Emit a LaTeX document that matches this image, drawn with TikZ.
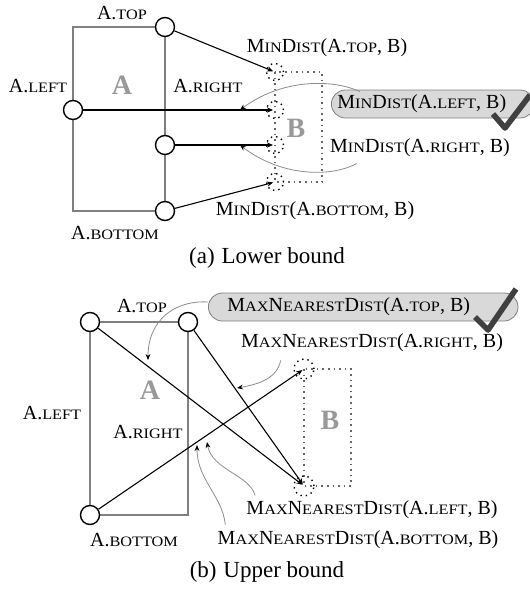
\documentclass[tikz,border=0pt]{standalone}
\usepackage{fontspec}
\setmainfont{Liberation Serif}
\newfontfamily\smfont[FakeStretch=1.13]{Liberation Serif}
\usetikzlibrary{arrows.meta}
\newcommand{\sm}[1]{{\smfont\fontsize{7.2}{8}\selectfont #1}}
\tikzset{corner/.style={circle, draw, fill=white, line width=0.7pt, inner sep=0pt, minimum size=9.5pt},
  probe/.style={circle, draw, dotted, line width=0.7pt, inner sep=0pt, minimum size=8.5pt},
  arect/.style={draw=black!50, line width=1pt},
  brect/.style={draw=black!60, dotted, line width=0.8pt},
  dist/.style={-{Stealth[length=3pt,width=2.6pt]}, line width=0.55pt, shorten >=1pt},
  callout/.style={black!45, line width=0.4pt, -{Stealth[black,length=3pt,width=2.4pt]}},
  lbl/.style={inner sep=0pt, font=\fontsize{10}{12}\selectfont},
  bigl/.style={inner sep=0pt, text=black!40, font=\fontsize{14}{16}\selectfont\bfseries},
  pill/.style={lbl, draw=black!50, fill=black!15, rounded corners=7pt, inner xsep=3pt, minimum height=14pt, anchor=west},
  tick/.style={black!75, line width=2.8pt, line join=round},
  capt/.style={inner sep=0pt, font=\fontsize{11.5}{13}\selectfont}}

\begin{document}
\begin{tikzpicture}[x=0.5pt,y=-0.5pt]
  \useasboundingbox (0,0) rectangle (530,589);
  % (a) lower bound
  \draw[arect] (73,27) rectangle (165,211);
  \node[corner] (atop) at (165,27) {};
  \node[corner] (aleft) at (73,110) {};
  \node[corner] (aright) at (165,145) {};
  \node[corner] (abot) at (165,211) {};
  \node[bigl] (la) at (122,85) {A};
  \node[lbl] (latop) at (122,13) {A.\sm{TOP}};
  \node[lbl] (laleft) at (38,86) {A.\sm{LEFT}};
  \node[lbl] (laright) at (208,86) {A.\sm{RIGHT}};
  \node[lbl] (labot) at (115,233) {A.\sm{BOTTOM}};
  \draw[brect] (275,72) rectangle (322,182);
  \node[probe] (b1) at (275,72) {};
  \node[probe] (b2) at (275,110) {};
  \node[probe] (b3) at (275,145) {};
  \node[probe] (b4) at (275,182) {};
  \node[bigl] (lb) at (296,128) {B};
  \draw[dist] (atop) -- (b1.center);
  \draw[dist] (aleft) -- (b2.center);
  \draw[dist] (aright) -- (b3.center);
  \draw[dist] (abot) -- (b4.center);
  \node[lbl] (mtop) at (327,48) {M\sm{IN}D\sm{IST}(A.\sm{TOP}, B)};
  \node[pill] (mleft) at (331,104) {M\sm{IN}D\sm{IST}(A.\sm{LEFT}, B)\kern11pt};
  \node[lbl] (mright) at (420,148) {M\sm{IN}D\sm{IST}(A.\sm{RIGHT}, B)};
  \node[lbl] (mbot) at (315,211) {M\sm{IN}D\sm{IST}(A.\sm{BOTTOM}, B)};
  \coordinate (tleft) at (240,110);
  \coordinate (tright) at (240,145);
  \draw[callout] ([xshift=14.5pt,yshift=-1pt]mleft.north west) .. controls (330,78) and (280,80) .. (tleft);
  \draw[callout] ([xshift=13.5pt,yshift=-3pt]mright.south west) .. controls (330,178) and (280,176) .. (tright);
  \draw[tick] (493,114) -- (505,128) -- (530,95);
  \node[capt] (capa) at (267,258) {(a)\hspace{0.3em}Lower bound};

  % (b) upper bound
  \draw[arect] (90,322) rectangle (188,515);
  \node[corner] (ctl) at (90,322) {};
  \node[corner] (ctr) at (188,322) {};
  \node[corner] (cbl) at (90,515) {};
  \node[bigl] (la2) at (150,390) {A};
  \node[lbl] (latop2) at (142,306) {A.\sm{TOP}};
  \node[lbl] (laleft2) at (52,413) {A.\sm{LEFT}};
  \node[lbl] (laright2) at (148,432) {A.\sm{RIGHT}};
  \node[lbl] (labot2) at (134,540) {A.\sm{BOTTOM}};
  \draw[brect] (304,369) rectangle (351,486);
  \node[probe, minimum size=10pt] (bt) at (304,369) {};
  \node[probe, minimum size=10pt] (bb) at (304,486) {};
  \node[bigl] (lb2) at (330,420) {B};
  \draw[dist] (ctl) -- (bb.center);
  \draw[dist] (ctr) -- (bb.center);
  \draw[dist] (cbl) -- (bt.center);
  \node[pill] (mxtop) at (208,307) {\kern6.5pt M\sm{AX}N\sm{EAREST}D\sm{IST}(A.\sm{TOP}, B)\kern21pt};
  \node[lbl] (mxright) at (372,343) {M\sm{AX}N\sm{EAREST}D\sm{IST}(A.\sm{RIGHT}, B)};
  \node[lbl] (mxleft) at (372,510) {M\sm{AX}N\sm{EAREST}D\sm{IST}(A.\sm{LEFT}, B)};
  \node[lbl] (mxbot) at (358,540) {M\sm{AX}N\sm{EAREST}D\sm{IST}(A.\sm{BOTTOM}, B)};
  \coordinate (ttop) at (148,360);
  \coordinate (tright2) at (237,388);
  \coordinate (tleft2) at (207,442);
  \coordinate (tbot2) at (197,445);
  \draw[callout] ([yshift=2.5pt]mxtop.west) .. controls (175,300) and (148,320) .. (ttop);
  \draw[callout] ([xshift=20pt,yshift=-4pt]mxright.south west) .. controls (277,378) and (260,384) .. (tright2);
  \draw[callout] ([xshift=4.5pt,yshift=2.5pt]mxleft.north west) .. controls (250,475) and (212,470) .. (tleft2);
  \draw[callout] ([xshift=4pt,yshift=3pt]mxbot.north west) .. controls (222,495) and (197,480) .. (tbot2);
  \draw[tick] (475,317) -- (488,330) -- (516,289);
  \node[capt] (capb) at (267,572) {(b)\hspace{0.3em}Upper bound};
\end{tikzpicture}
\end{document}
